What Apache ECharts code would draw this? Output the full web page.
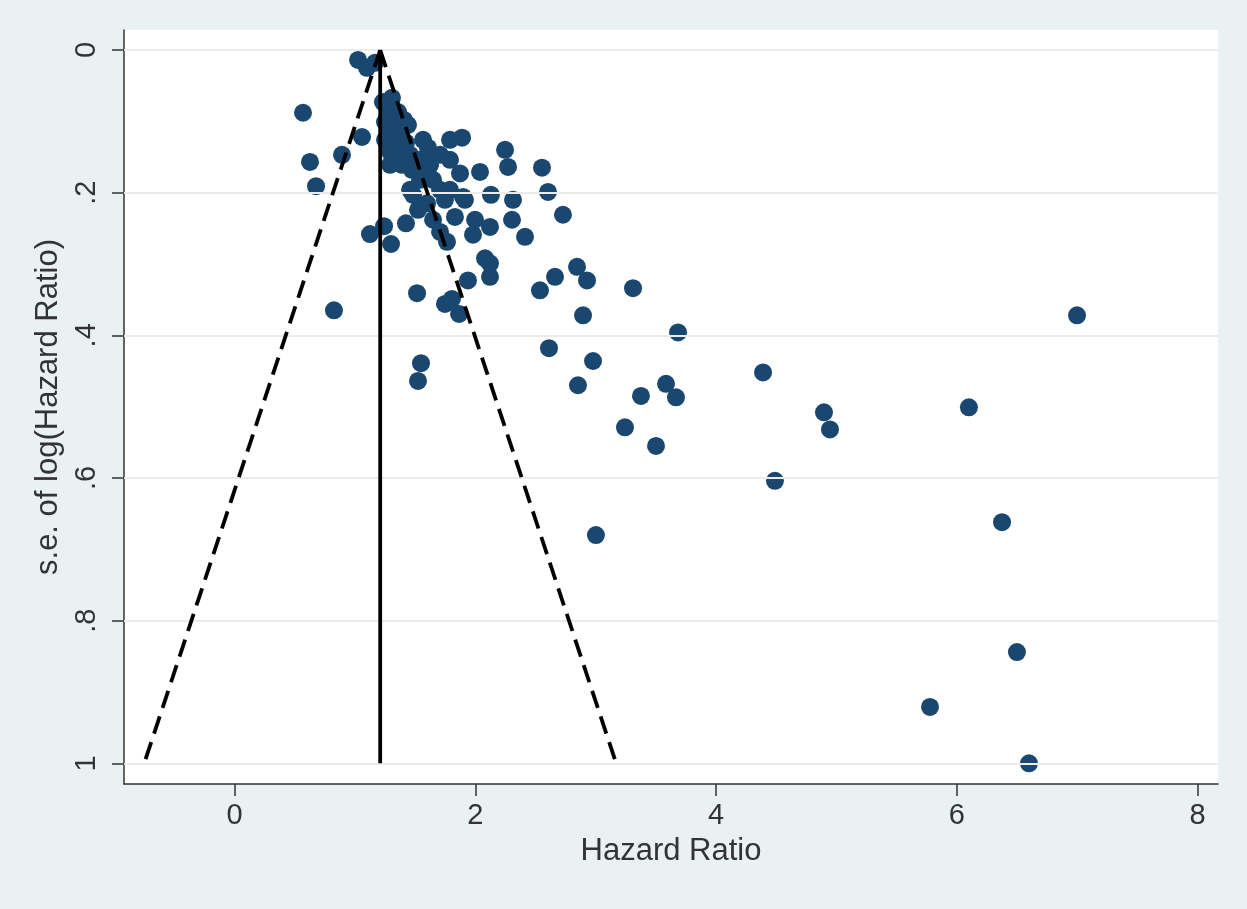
<!DOCTYPE html>
<html>
<head>
<meta charset="utf-8">
<script src="https://cdn.jsdelivr.net/npm/echarts@6/dist/echarts.min.js"></script>
<style>
html,body{margin:0;padding:0;background:#eaf1f3;}
#chart{width:1247px;height:909px;}
</style>
</head>
<body>
<div id="chart"></div>
<script>
// Study-level data: hazard ratio and standard error of log(HR)
const hazardRatio = [1.026,1.100,1.167,0.569,0.627,0.677,0.893,1.059,1.125,1.242,1.300,1.424,0.826,
1.233,1.308,1.275,1.358,1.250,1.333,1.408,1.292,1.375,1.441,1.250,1.341,1.424,1.292,1.375,1.458,1.292,1.391,1.474,1.458,1.541,1.599,1.566,1.541,1.624,1.649,1.707,1.748,1.790,1.890,1.790,1.873,1.898,1.831,1.649,1.707,1.765,1.524,1.483,
2.247,2.272,2.039,2.554,2.604,2.130,2.313,2.728,1.998,2.122,2.305,2.413,2.081,2.122,2.122,1.939,2.537,2.662,2.845,2.928,3.310,2.895,1.981,1.516,1.748,1.806,1.865,1.549,1.524,2.612,2.978,2.853,3.684,3.376,3.584,3.667,3.243,3.501,4.390,4.489,4.896,4.946,3.002,6.100,6.375,6.499,5.777,6.599,6.998,1.914,1.599,1.790,1.607,1.707];
const seLogHR = [0.014,0.025,0.018,0.088,0.157,0.191,0.147,0.122,0.258,0.247,0.272,0.243,0.365,
0.073,0.067,0.087,0.087,0.101,0.101,0.098,0.115,0.115,0.105,0.126,0.129,0.130,0.143,0.147,0.147,0.161,0.161,0.168,0.196,0.182,0.215,0.126,0.154,0.161,0.182,0.196,0.210,0.126,0.123,0.154,0.173,0.206,0.234,0.238,0.255,0.269,0.224,0.203,
0.140,0.164,0.171,0.165,0.199,0.203,0.210,0.231,0.238,0.248,0.238,0.262,0.292,0.299,0.318,0.323,0.337,0.318,0.304,0.323,0.334,0.372,0.259,0.341,0.356,0.349,0.370,0.439,0.464,0.418,0.436,0.470,0.396,0.485,0.468,0.487,0.529,0.555,0.452,0.604,0.508,0.532,0.680,0.501,0.662,0.844,0.921,1.000,0.372,0.210,0.173,0.196,0.137,0.147];

// Pooled estimate line and pseudo 95% confidence limits
const pooledLine = [[1.21, 0], [1.21, 1]];
const lowerLimit = [[1.21, 0], [-0.75, 1]];
const upperLimit = [[1.21, 0], [3.17, 1]];

// Axis ticks
const xTicks = [0, 2, 4, 6, 8];
const yTicks = [0, 0.2, 0.4, 0.6, 0.8, 1];
const yTickLabels = ['0', '.2', '.4', '.6', '.8', '1'];

const points = hazardRatio.map((h, i) => [h, seLogHR[i]]);
const FONT = '"Liberation Sans", Arial, sans-serif';
const TXT = '#333333';

const chart = echarts.init(document.getElementById('chart'), null, {renderer: 'canvas'});
chart.setOption({
  backgroundColor: '#eaf1f3',
  animation: false,
  grid: {left: 124, right: 29, top: 30, bottom: 125, show: true, backgroundColor: '#ffffff', borderWidth: 0},
  xAxis: {
    type: 'value', min: -0.918, max: 8.169,
    name: 'Hazard Ratio', nameLocation: 'middle', nameGap: 52,
    nameTextStyle: {fontFamily: FONT, fontSize: 31, color: TXT},
    axisLine: {show: true, onZero: false, lineStyle: {color: '#333', width: 1.5}},
    axisTick: {show: true, length: 12, inside: false, customValues: xTicks, lineStyle: {color: '#333', width: 1.5}},
    axisLabel: {show: true, customValues: xTicks, margin: 17, fontFamily: FONT, fontSize: 29, color: TXT,
      formatter: v => String(v)},
    splitLine: {show: false}
  },
  yAxis: {
    type: 'value', inverse: true, min: -0.028, max: 1.029,
    name: 's.e. of log(Hazard Ratio)', nameLocation: 'middle', nameGap: 57, nameRotate: 90,
    nameTextStyle: {fontFamily: FONT, fontSize: 31, color: TXT},
    axisLine: {show: true, onZero: false, lineStyle: {color: '#333', width: 1.5}},
    axisTick: {show: true, length: 12, inside: false, customValues: yTicks, lineStyle: {color: '#333', width: 1.5}},
    axisLabel: {show: true, customValues: yTicks, rotate: 90, margin: 23, fontFamily: FONT, fontSize: 29, color: TXT,
      formatter: v => {
        const i = yTicks.findIndex(t => Math.abs(t - v) < 1e-6);
        return i >= 0 ? yTickLabels[i] : '';
      }},
    splitLine: {show: false}
  },
  series: [
    {
      type: 'line', data: [], z: 1, silent: true,
      markLine: {
        silent: true, symbol: 'none', animation: false,
        label: {show: false},
        lineStyle: {color: '#ebebeb', width: 2, type: 'solid'},
        data: yTicks.map(v => ({yAxis: v}))
      }
    },
    {
      type: 'scatter', data: points, symbol: 'circle', symbolSize: 18, z: 3,
      itemStyle: {color: '#1a476f', opacity: 1}
    },
    {
      type: 'line', data: pooledLine, symbol: 'none', z: 5,
      lineStyle: {color: '#000', width: 3.8, type: 'solid'}
    },
    {
      type: 'line', data: lowerLimit, symbol: 'none', z: 5,
      lineStyle: {color: '#000', width: 3.8, type: [18, 9]}
    },
    {
      type: 'line', data: upperLimit, symbol: 'none', z: 5,
      lineStyle: {color: '#000', width: 3.8, type: [18, 9]}
    }
  ]
});
</script>
</body>
</html>
